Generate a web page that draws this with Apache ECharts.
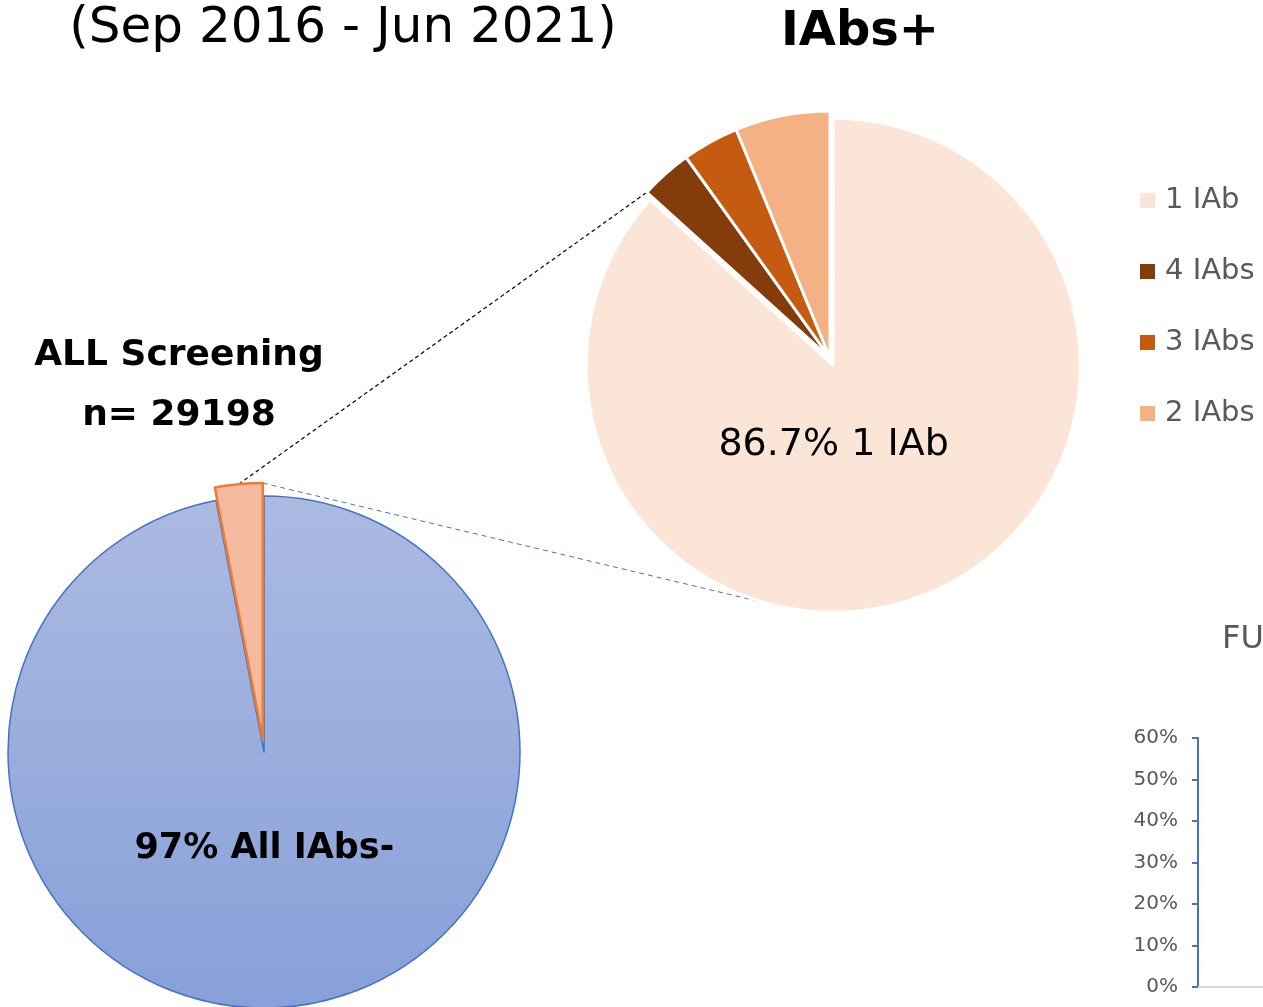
<!DOCTYPE html>
<html>
<head>
<meta charset="utf-8">
<title>IAbs screening</title>
<script src="https://cdn.jsdelivr.net/npm/echarts@6/dist/echarts.min.js"></script>
<style>
  html, body { margin: 0; padding: 0; background: #fff; }
  #main { width: 1263px; height: 1007px; }
</style>
</head>
<body>
<div id="main"></div>
<script>
// data
const periodText = '(Sep 2016 - Jun 2021)'
const screenLabel = ['ALL Screening', 'n= 29198']
const screenNames = ['All IAbs-', 'IAbs+']
const screenValues = [97, 3]
const iabNames = ['1 IAb', '4 IAbs', '3 IAbs', '2 IAbs']
const iabValues = [86.7, 3.4, 3.7, 6.2]
const iabColors = ['#FBE5D6', '#843C0C', '#C55A11', '#F4B183']
const fuCategories = ['']
const fuValues = []
const fuTicks = { min: 0, max: 0.6, step: 0.1 }

const font = '"DejaVu Sans", sans-serif'

// pie geometry
const big = { c: [264, 752], r: 256, off: 13 }
const small = { c: [830, 358], r: 247, off: 8 }

function sum(a) { return a.reduce((s, v) => s + v, 0) }
// point on a slice edge, angles clockwise from top
function edgePt(p, deg, midDeg, off) {
  const a = deg * Math.PI / 180, m = midDeg * Math.PI / 180
  return [
    p.c[0] + off * Math.sin(m) + p.r * Math.sin(a),
    p.c[1] - off * Math.cos(m) - p.r * Math.cos(a)
  ]
}

const bigTotal = sum(screenValues)
const orangeStart = 360 * screenValues[0] / bigTotal
const orangeMid = (orangeStart + 360) / 2
const smallTotal = sum(iabValues)
const fourStart = 360 * iabValues[0] / smallTotal
const oneMid = fourStart / 2

const blackA = edgePt(big, orangeMid, orangeMid, big.off)
const blackB = edgePt(small, fourStart, 0, 0)
const blueA = edgePt(big, 360, orangeMid, big.off)
const blueB = edgePt(small, 195, oneMid, small.off)

const chart = echarts.init(document.getElementById('main'))

const option = {
  animation: false,
  textStyle: { fontFamily: font },
  legend: {
    data: iabNames,
    orient: 'vertical',
    left: 1138,
    top: 186,
    padding: 0,
    icon: 'rect',
    itemWidth: 17,
    itemHeight: 17,
    itemGap: 42,
    selectedMode: false,
    textStyle: { fontSize: 29, color: '#595959', fontFamily: font, padding: [0, 0, 0, 4] }
  },
  grid: { left: 1198, top: 738, width: 120, bottom: 20 },
  xAxis: {
    type: 'category',
    data: fuCategories,
    axisLine: { lineStyle: { color: '#D9D9D9', width: 2 } },
    axisTick: { show: false },
    axisLabel: { show: false }
  },
  yAxis: {
    type: 'value',
    min: fuTicks.min,
    max: fuTicks.max,
    interval: fuTicks.step,
    axisLine: { show: true, lineStyle: { color: '#4472C4', width: 2 } },
    axisTick: { show: true, length: 6, lineStyle: { color: '#4472C4', width: 2 } },
    splitLine: { show: false },
    axisLabel: {
      formatter: v => Math.round(v * 100) + '%',
      fontSize: 20,
      color: '#595959',
      margin: 20
    }
  },
  graphic: [
    { type: 'line', shape: { x1: blackA[0], y1: blackA[1], x2: blackB[0], y2: blackB[1] },
      style: { stroke: '#000', lineWidth: 1.2, lineDash: [4, 3] } },
    { type: 'line', shape: { x1: blueA[0], y1: blueA[1], x2: blueB[0], y2: blueB[1] },
      style: { stroke: '#4472C4', lineWidth: 1, lineDash: [5, 4] } },
    { type: 'text', x: 343, y: 29,
      style: { text: periodText, font: '50px ' + font, fill: '#000', align: 'center', verticalAlign: 'middle' } },
    { type: 'text', x: 860, y: 33,
      style: { text: 'IAbs+', font: 'bold 48px ' + font, fill: '#000', align: 'center', verticalAlign: 'middle' } },
    { type: 'text', x: 179, y: 386,
      style: { text: screenLabel.join('\n'), font: 'bold 36px ' + font, lineHeight: 60, fill: '#000', align: 'center', verticalAlign: 'middle' } },
    { type: 'text', x: 1222, y: 640,
      style: { text: 'FU', font: '32px ' + font, fill: '#595959', align: 'left', verticalAlign: 'middle' } }
  ],
  series: [
    {
      type: 'pie',
      center: big.c,
      radius: big.r,
      startAngle: 90,
      clockwise: true,
      selectedMode: 'multiple',
      selectedOffset: big.off,
      avoidLabelOverlap: false,
      silent: true,
      labelLine: { show: false },
      labelLayout: { dx: -12, dy: -34 },
      data: [
        {
          value: screenValues[0], name: screenNames[0],
          itemStyle: {
            color: new echarts.graphic.LinearGradient(0, 0, 0, 1, [
              { offset: 0, color: '#ABBAE1' },
              { offset: 1, color: '#87A0D9' }
            ]),
            borderColor: '#4472C4', borderWidth: 1.5
          },
          label: {
            show: true, position: 'inside', formatter: '{c}% {b}',
            fontSize: 35, fontWeight: 'bold', color: '#000', fontFamily: font
          }
        },
        {
          value: screenValues[1], name: screenNames[1], selected: true,
          itemStyle: { color: '#F5BAA0', borderColor: '#ED7D31', borderWidth: 2.5 },
          label: { show: false }
        }
      ]
    },
    {
      type: 'pie',
      center: small.c,
      radius: small.r,
      startAngle: 90,
      clockwise: true,
      selectedMode: 'multiple',
      selectedOffset: small.off,
      avoidLabelOverlap: false,
      silent: true,
      labelLine: { show: false },
      labelLayout: { dx: -51, dy: -36 },
      itemStyle: { borderColor: '#fff', borderWidth: 3 },
      data: iabNames.map((n, i) => ({
        name: n,
        value: iabValues[i],
        selected: i === 0,
        itemStyle: { color: iabColors[i] },
        label: i === 0
          ? { show: true, position: 'inside', formatter: '{c}% {b}', fontSize: 38, color: '#000', fontFamily: font }
          : { show: false }
      }))
    },
    {
      type: 'bar',
      data: fuValues
    }
  ]
}

chart.setOption(option)
</script>
</body>
</html>
